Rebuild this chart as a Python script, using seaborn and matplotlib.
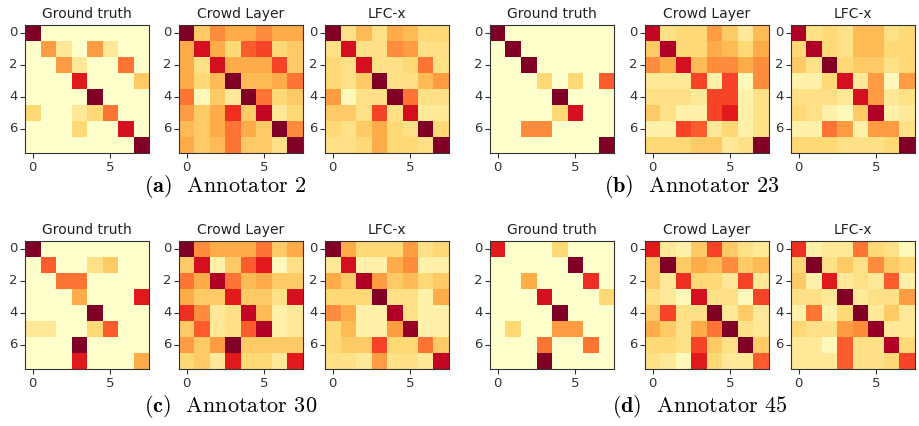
import numpy as np
import matplotlib
matplotlib.use("Agg")
import matplotlib.pyplot as plt
import seaborn as sns

sns.set_style("white")
plt.rcParams["font.family"] = ["DejaVu Sans"]
plt.rcParams["mathtext.fontset"] = "cm"

# Confusion matrices (relative intensity, 0..10) for four annotators
gt_a2 = [
    [10, 0, 0, 0, 0, 0, 0, 0],
    [0, 4.5, 1.5, 0, 4.5, 1.5, 0, 0],
    [0, 0, 4.5, 1.5, 0, 0, 5.5, 0],
    [0, 0, 0, 7.5, 0, 0, 0, 3],
    [0, 0, 0, 0, 10, 0, 0, 0],
    [2.5, 0, 0, 1.5, 2.5, 5.5, 0, 0],
    [0, 0, 0, 2.5, 0, 0, 8, 0],
    [0, 0, 0, 0, 0, 0, 0, 10],
]
crowd_a2 = [
    [10, 3, 5, 4, 4, 5, 4, 4],
    [4, 8, 4, 2.5, 6, 6.5, 2.5, 3],
    [4, 2, 8, 4, 4, 4, 6.5, 3],
    [4, 2.5, 3.5, 10, 3.5, 3.5, 4, 5.5],
    [5.5, 0.5, 3, 1.5, 10, 5.5, 2.5, 3],
    [4.5, 3, 4, 7, 3, 8.5, 1.5, 2.5],
    [3.5, 3, 4, 5.5, 4, 3, 10, 5],
    [4, 3, 3.5, 5.5, 3, 3, 2, 10],
]
lfc_a2 = [
    [10, 2, 3.5, 2, 4, 3.5, 2.5, 2.5],
    [2, 8, 2, 2, 5, 4.5, 2, 2],
    [2.5, 2, 8, 2, 2, 2.5, 5.5, 2],
    [2.5, 2, 3, 10, 2, 2, 3.5, 4.5],
    [4.5, 0.5, 2, 2, 10, 5.5, 2, 2],
    [3, 3, 2, 6.5, 2, 8, 1.5, 1.5],
    [2.5, 2, 3, 4, 2.5, 2, 10, 2.5],
    [2, 2, 2.5, 4, 2.5, 2.5, 2, 10],
]

gt_a23 = [
    [10, 0, 0, 0, 0, 0, 0, 0],
    [0, 10, 0, 0, 0, 0, 0, 0],
    [0, 0, 10, 0, 0, 0, 0, 0],
    [0, 0, 0, 2.5, 0, 2.5, 0, 6],
    [0, 0, 0, 0, 10, 0, 0, 0],
    [0, 0, 0, 0, 2.5, 8, 0, 0],
    [0, 0, 5, 5, 0, 0, 0, 0],
    [0, 0, 0, 0, 0, 0, 0, 10],
]
crowd_a23 = [
    [8.5, 2, 2.5, 2.5, 4.5, 3, 1.5, 3.5],
    [3, 9, 2.5, 2.5, 4, 3.5, 2.5, 4],
    [5, 4, 8, 3.5, 5, 5, 4, 5],
    [1.5, 1.5, 1.5, 6.5, 1, 6.5, 0.5, 5],
    [2, 2, 2, 1.5, 6.5, 6.5, 1, 2],
    [3, 2, 1, 1, 6.5, 7.5, 1, 2],
    [1, 1, 6.5, 6, 1.5, 2.5, 1, 2],
    [2.5, 2.5, 2.5, 3, 3, 1.5, 2, 10],
]
lfc_a23 = [
    [9, 2, 2.5, 2, 3.5, 3.5, 2, 2.5],
    [2.5, 9, 2.5, 2, 3.5, 3.5, 2.5, 2.5],
    [3, 2, 10, 2.5, 3, 3, 2, 2.5],
    [1, 1, 2.5, 8, 1.5, 4.5, 0.5, 4.5],
    [2, 2, 2, 1.5, 8, 4.5, 1.5, 2],
    [2.5, 2, 1, 0.5, 3, 9, 1, 1.5],
    [1, 1, 5.5, 4.5, 1, 4.5, 4.5, 2],
    [2.5, 2.5, 2.5, 2, 2, 2, 2.5, 10],
]

gt_a30 = [
    [10, 0, 0, 0, 0, 0, 0, 0],
    [0, 6, 0, 0, 2, 3, 0, 0],
    [0, 0, 5.5, 5.5, 0, 0, 0, 0],
    [0, 0, 0, 4, 0, 0, 0, 7.5],
    [0, 0, 0, 0, 10, 0, 0, 0],
    [1.5, 1.5, 0, 0, 2.5, 6, 0, 0],
    [0, 0, 0, 10, 0, 0, 0, 0],
    [0, 0, 0, 7.5, 0, 0, 0, 4],
]
crowd_a30 = [
    [10, 5, 4, 4, 4, 5.5, 3, 4],
    [3, 8, 1, 3, 6, 7.5, 0.5, 2],
    [5.5, 4, 9, 5.5, 3.5, 4, 3, 3],
    [4, 3, 3, 7.5, 3, 3, 2, 8],
    [7, 5, 1.5, 2, 8.5, 3.5, 1, 1.5],
    [3, 6, 1.5, 2, 6, 9, 1, 1.5],
    [4.5, 3, 4.5, 10, 3, 3, 3, 3],
    [2.5, 3, 1.5, 7.5, 2.5, 2.5, 1.5, 7.5],
]
lfc_a30 = [
    [10, 4, 2.5, 2.5, 2.5, 4.5, 2, 2.5],
    [1.5, 8, 1, 1, 4, 5, 1, 1],
    [4, 3, 9, 4.5, 3, 3.5, 2.5, 3],
    [2.5, 2.5, 2.5, 10, 2, 2, 1, 4],
    [5, 4, 1, 1, 9, 2, 1, 1],
    [2.5, 3.5, 1, 1, 4.5, 9.5, 1, 1],
    [2.5, 3, 3, 6.5, 2.5, 2.5, 5.5, 3],
    [2, 2, 1.5, 4.5, 2, 2, 1.5, 8.5],
]

gt_a45 = [
    [7.5, 0, 0, 0, 2.5, 0, 0, 0],
    [0, 0, 0, 0, 0, 10, 0, 0],
    [0, 0, 4, 0, 0, 0, 7, 0],
    [0, 0, 0, 8, 0, 0, 0, 2.5],
    [0, 0, 0, 0, 10, 0, 0, 0],
    [0, 2.5, 0, 0, 4.5, 4.5, 0, 0],
    [0, 0, 0, 5.5, 0, 0, 5.5, 0],
    [0, 0, 0, 10, 0, 0, 0, 0],
]
crowd_a45 = [
    [7.5, 1.5, 1, 3, 6.5, 3, 2, 1.5],
    [3, 10, 3, 4, 3.5, 5, 3, 3.5],
    [3, 1.5, 7, 2.5, 2.5, 1.5, 6.5, 1.5],
    [2, 1.5, 0.5, 8, 2, 2, 0.5, 6.5],
    [3, 6.5, 2, 2, 10, 1.5, 3, 1.5],
    [4, 3, 2, 4, 5.5, 10, 2, 1.5],
    [2.5, 2.5, 2, 6.5, 3, 2, 10, 3],
    [2, 1.5, 0.5, 7.5, 2.5, 1.5, 1.5, 6],
]
lfc_a45 = [
    [7, 1, 1.5, 1.5, 5.5, 2.5, 2, 0.5],
    [2.5, 10, 2, 3, 2, 5, 3, 2.5],
    [3, 1, 7.5, 1.5, 2, 1.5, 6, 1],
    [2, 2, 1.5, 10, 1.5, 2, 2, 4.5],
    [1, 5.5, 1, 2.5, 10, 1.5, 3, 1.5],
    [2.5, 2, 2, 4.5, 5, 9.5, 1.5, 1.5],
    [1.5, 1.5, 0.5, 6, 2, 2, 9, 2.5],
    [1.5, 1.5, 1.5, 6, 2, 2, 2.5, 6.5],
]

panel_titles = ["Ground truth", "Crowd Layer", "LFC-x"]
captions = ["(a)", "(b)", "(c)", "(d)"]
annotators = ["Annotator 2", "Annotator 23", "Annotator 30", "Annotator 45"]
groups = [
    [gt_a2, crowd_a2, lfc_a2],
    [gt_a23, crowd_a23, lfc_a23],
    [gt_a30, crowd_a30, lfc_a30],
    [gt_a45, crowd_a45, lfc_a45],
]

W, H = 920, 426
fig = plt.figure(figsize=(W / 100, H / 100), dpi=100)

# pixel layout of the heatmap boxes
col_x = [[25, 179, 325], [490, 645, 791]]
box_w = 124
row_y = [25, 241]
box_h = 128
caption_xy = [(144, 186), (604, 186), (144, 406), (612, 406)]

for g, mats in enumerate(groups):
    r, c = divmod(g, 2)
    for k, mat in enumerate(mats):
        x0 = col_x[c][k]
        y0 = row_y[r]
        ax = fig.add_axes([x0 / W, 1 - (y0 + box_h) / H, box_w / W, box_h / H])
        sns.heatmap(np.array(mat) / 10.0, ax=ax, cmap="YlOrRd", vmin=0, vmax=1,
                    cbar=False, square=False)
        ax.set_xticks([0.5, 5.5])
        ax.set_xticklabels(["0", "5"], rotation=0)
        ax.set_yticks([0.5, 2.5, 4.5, 6.5])
        ax.set_yticklabels(["0", "2", "4", "6"], rotation=0)
        ax.tick_params(axis="both", which="both", length=3.5, width=0.8,
                       labelsize=9.5, colors="#333333", pad=2,
                       bottom=True, left=True)
        for s in ax.spines.values():
            s.set_visible(True)
            s.set_color("#333333")
            s.set_linewidth(0.8)
        ax.set_title(panel_titles[k], fontsize=10, color="#222222", pad=5)
    cx, cy = caption_xy[g]
    fig.text(cx / W, 1 - cy / H, r"$\mathbf{" + captions[g] + r"}$  " + annotators[g],
             family="cmr10", fontsize=16, ha="left", va="center", color="black")

fig.savefig("out.png", dpi=100)
